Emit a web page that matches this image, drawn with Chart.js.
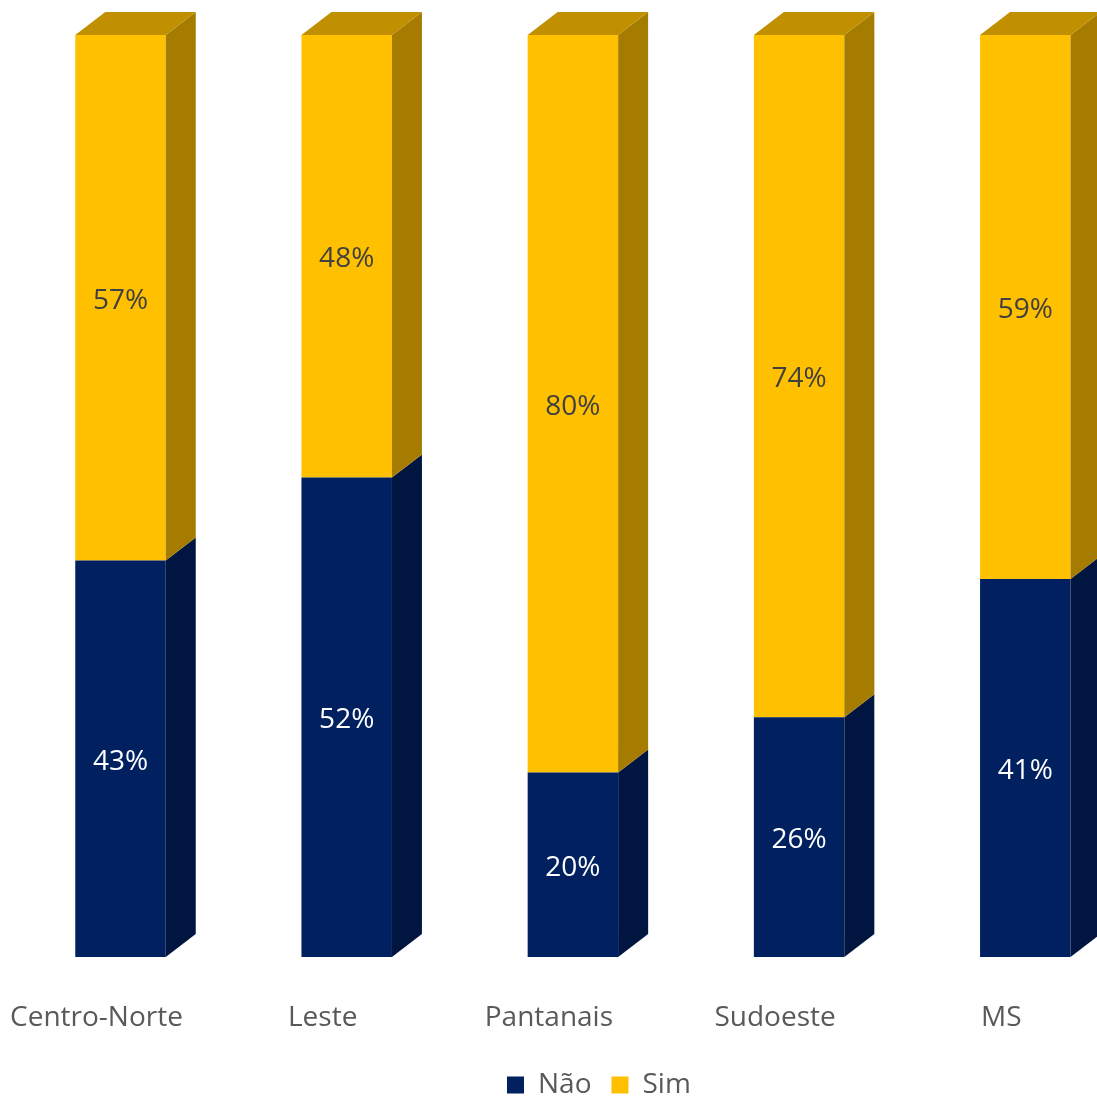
<!DOCTYPE html>
<html>
<head>
<meta charset="utf-8">
<script src="https://cdn.jsdelivr.net/npm/chart.js@4.4.0/dist/chart.umd.min.js"></script>
<style>
  html, body { margin: 0; padding: 0; background: #fff; }
  #wrap { width: 1097px; height: 1098px; overflow: hidden; }
</style>
</head>
<body>
<div id="wrap"><canvas id="chart" width="1140" height="1098"></canvas></div>
<script>
const regioes = ["Centro-Norte", "Leste", "Pantanais", "Sudoeste", "MS"];
const nao = [43, 52, 20, 26, 41];
const sim = [57, 48, 80, 74, 59];

const FONT = "'Open Sans', sans-serif";

// fake 3d: side and top faces drawn from the bar elements
const depthPlugin = {
  id: "depth",
  afterDatasetsDraw(chart) {
    const ctx = chart.ctx;
    const dx = 30;
    const dy = 23;
    const sides = ["#001540", "#a67c00"];
    ctx.save();
    chart.data.datasets.forEach((ds, di) => {
      const meta = chart.getDatasetMeta(di);
      meta.data.forEach((bar) => {
        const right = bar.x + bar.width / 2;
        const left = bar.x - bar.width / 2;
        const top = Math.min(bar.y, bar.base);
        const bottom = Math.max(bar.y, bar.base);
        ctx.fillStyle = sides[di];
        ctx.beginPath();
        ctx.moveTo(right, top);
        ctx.lineTo(right + dx, top - dy);
        ctx.lineTo(right + dx, bottom - dy);
        ctx.lineTo(right, bottom);
        ctx.closePath();
        ctx.fill();
        if (di === chart.data.datasets.length - 1) {
          ctx.fillStyle = "#c09000";
          ctx.beginPath();
          ctx.moveTo(left, top);
          ctx.lineTo(left + dx, top - dy);
          ctx.lineTo(right + dx, top - dy);
          ctx.lineTo(right, top);
          ctx.closePath();
          ctx.fill();
        }
      });
    });
    ctx.restore();
  },
};

// percentage labels in the middle of each segment
const valuePlugin = {
  id: "values",
  afterDatasetsDraw(chart) {
    const ctx = chart.ctx;
    const colors = ["#ffffff", "#404040"];
    ctx.save();
    ctx.font = "28px " + FONT;
    ctx.textAlign = "center";
    ctx.textBaseline = "middle";
    chart.data.datasets.forEach((ds, di) => {
      const meta = chart.getDatasetMeta(di);
      meta.data.forEach((bar, i) => {
        ctx.fillStyle = colors[di];
        ctx.fillText(ds.data[i] + "%", bar.x, (bar.y + bar.base) / 2 + 3);
      });
    });
    ctx.restore();
  },
};

// the original legend sits centred on a wider (cropped) chart
const legendShift = {
  id: "legendShift",
  afterLayout(chart) {
    chart.legend.left += 26;
    chart.legend.right += 26;
  },
};

new Chart(document.getElementById("chart"), {
  type: "bar",
  data: {
    labels: regioes,
    datasets: [
      { label: "Não", data: nao, backgroundColor: "#002060" },
      { label: "Sim", data: sim, backgroundColor: "#ffc000" },
    ],
  },
  plugins: [depthPlugin, valuePlugin, legendShift],
  options: {
    responsive: false,
    animation: false,
    layout: { padding: { left: 7.4, right: 1.6, top: 35, bottom: -11 } },
    scales: {
      x: {
        stacked: true,
        // tick marks hidden, only used to push the labels down
        grid: { display: false, drawTicks: true, tickLength: 30 },
        border: { display: false },
        ticks: {
          color: "#595959",
          font: { family: FONT, size: 28 },
          labelOffset: -24,
          padding: 14,
        },
        afterFit: (scale) => {
          scale.height = 94;
        },
      },
      y: {
        stacked: true,
        display: false,
        min: 0,
        max: 100,
      },
    },
    datasets: {
      bar: { categoryPercentage: 1, barPercentage: 0.4 },
    },
    plugins: {
      legend: {
        position: "bottom",
        labels: {
          color: "#595959",
          font: { family: FONT, size: 28 },
          boxWidth: 17,
          boxHeight: 17,
          padding: 20,
        },
      },
      tooltip: { enabled: false },
    },
  },
});
</script>
</body>
</html>
